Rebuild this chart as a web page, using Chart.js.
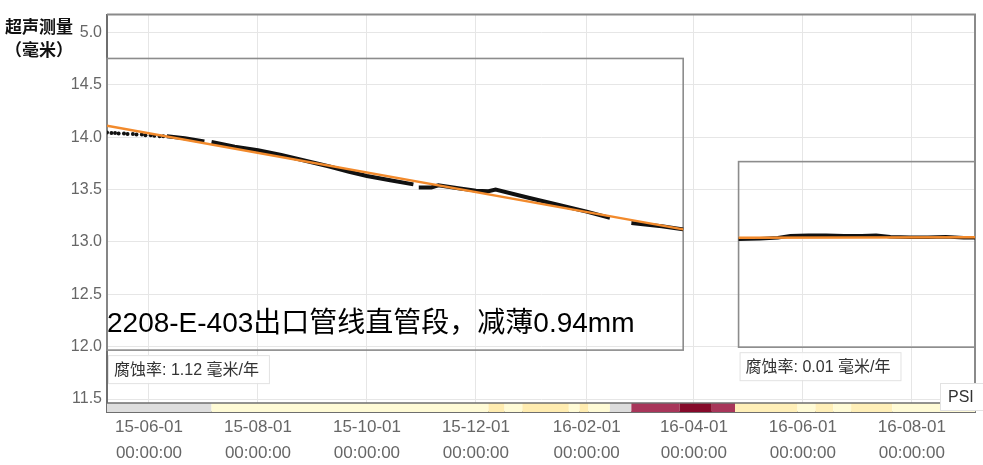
<!DOCTYPE html>
<html>
<head>
<meta charset="utf-8">
<title>超声测量</title>
<script src="https://cdn.jsdelivr.net/npm/chart.js@4.4.1/dist/chart.umd.min.js"></script>
<style>
  html, body { margin: 0; padding: 0; background: #fff; }
  #chart { display: block; }
</style>
</head>
<body>
<canvas id="chart" width="983" height="465"></canvas>
<script>
// ---- data ----
const xRange = ['2015-05-08T12:00', '2016-09-05T08:00'];
const xTickDates = ['2015-06-01', '2015-08-01', '2015-10-01', '2015-12-01', '2016-02-01', '2016-04-01', '2016-06-01', '2016-08-01'];
const yTickValues = [11.5, 12.0, 12.5, 13.0, 13.5, 14.0, 14.5, 15.0];
const yRange = [11.376, 15.171];

// sparse readings at the start (drawn as dots)
const dotDates = ['2015-05-08T12:00', '2015-05-11', '2015-05-13', '2015-05-15', '2015-05-18', '2015-05-20', '2015-05-23', '2015-05-25', '2015-05-28', '2015-05-30', '2015-06-02', '2015-06-04', '2015-06-07', '2015-06-09'];
const dotValues = [14.045, 14.04, 14.04, 14.035, 14.035, 14.03, 14.03, 14.025, 14.025, 14.02, 14.02, 14.015, 14.01, 14.01];

// first period, null = gap in readings
const seg1Dates = ['2015-06-11', '2015-06-21', '2015-07-02', '2015-07-04', '2015-07-06', '2015-07-19', '2015-08-01', '2015-08-14', '2015-08-24', '2015-09-10', '2015-09-21', '2015-10-01', '2015-10-14', '2015-10-27', '2015-10-29', '2015-10-30', '2015-11-06', '2015-11-10', '2015-11-22', '2015-12-01', '2015-12-08', '2015-12-12', '2015-12-31', '2016-01-17', '2016-02-01', '2016-02-14', '2016-02-20', '2016-02-26', '2016-03-14', '2016-03-26'];
const seg1Values = [14.01, 13.99, 13.96, null, 13.955, 13.91, 13.875, 13.83, 13.79, 13.72, 13.67, 13.63, 13.59, 13.55, null, 13.52, 13.52, 13.54, 13.51, 13.49, 13.485, 13.50, 13.42, 13.35, 13.29, 13.23, null, 13.18, 13.15, 13.12];

// second period
const seg2Dates = ['2016-04-26', '2016-05-08', '2016-05-18', '2016-05-25', '2016-06-04', '2016-06-14', '2016-06-24', '2016-07-04', '2016-07-12', '2016-07-20', '2016-07-31', '2016-08-10', '2016-08-20', '2016-08-30', '2016-09-05T08:00'];
const seg2Values = [13.025, 13.03, 13.04, 13.06, 13.065, 13.065, 13.06, 13.06, 13.065, 13.05, 13.045, 13.045, 13.05, 13.04, 13.04];

// fitted trend lines
const trend1Dates = ['2015-05-08T12:00', '2016-03-26'];
const trend1Values = [14.11, 13.12];
const trend2Dates = ['2016-04-26', '2016-09-05T08:00'];
const trend2Values = [13.04, 13.045];

// annotation boxes around the two periods
const boxFrom = ['2015-05-08T12:00', '2016-04-26'];
const boxTo = ['2016-03-26', '2016-09-05T08:00'];
const boxLow = [11.967, 11.995];
const boxHigh = [14.752, 13.767];
const rateLabels = ['腐蚀率: 1.12 毫米/年', '腐蚀率: 0.01 毫米/年'];
const noteText = '2208-E-403出口管线直管段，减薄0.94mm';

// PSI status strip: start date of each band, band colour
const stripStarts = ['2015-05-08T12:00', '2015-07-06', '2015-12-08', '2015-12-17', '2015-12-27', '2016-01-22', '2016-01-28', '2016-02-02', '2016-02-14', '2016-02-26', '2016-03-24', '2016-04-11', '2016-04-24', '2016-05-29', '2016-06-08', '2016-06-18', '2016-06-28', '2016-07-21'];
const stripColors = ['#dedede', '#fffbd6', '#ffecb0', '#fffbd6', '#ffecb0', '#fffbd6', '#ffecb0', '#fffbd6', '#dcdcdc', '#a8365a', '#850a2a', '#a8365a', '#ffefb8', '#fffbd6', '#ffefb8', '#fffbd6', '#ffefb8', '#fffbd6'];

// ---- helpers ----
const FONT = 'Arial, "Liberation Sans", "Noto Sans CJK SC", sans-serif';
const CJK = '"Noto Sans CJK SC", Arial, sans-serif';

function ts(s) {
  return Date.parse(s.length === 10 ? s + 'T00:00:00Z' : s + ':00Z');
}
function pad(n) { return String(n).padStart(2, '0'); }
function fmtDate(v) {
  const d = new Date(v);
  return [
    pad(d.getUTCFullYear() % 100) + '-' + pad(d.getUTCMonth() + 1) + '-' + pad(d.getUTCDate()),
    pad(d.getUTCHours()) + ':' + pad(d.getUTCMinutes()) + ':' + pad(d.getUTCSeconds())
  ];
}
function toPoints(dates, values) {
  return dates.map((d, i) => ({ x: ts(d), y: values[i] }));
}

// boxes, strip, labels and the corner title
const overlay = {
  id: 'overlay',
  beforeDatasetsDraw(chart) {
    const { ctx, chartArea: a, scales: { x, y } } = chart;
    ctx.save();
    // frame top / right
    ctx.strokeStyle = '#8a8a8a';
    ctx.lineWidth = 2;
    ctx.beginPath();
    ctx.moveTo(a.left, a.top);
    ctx.lineTo(a.right, a.top);
    ctx.lineTo(a.right, a.bottom);
    ctx.stroke();

    // period boxes
    ctx.strokeStyle = '#8c8c8c';
    ctx.lineWidth = 1.6;
    for (let i = 0; i < boxFrom.length; i++) {
      const x0 = x.getPixelForValue(ts(boxFrom[i]));
      const x1 = x.getPixelForValue(ts(boxTo[i]));
      const y0 = y.getPixelForValue(boxHigh[i]);
      const y1 = y.getPixelForValue(boxLow[i]);
      ctx.strokeRect(x0, y0, x1 - x0, y1 - y0);
    }

    // status strip
    const sTop = a.bottom - 9;
    for (let i = 0; i < stripStarts.length; i++) {
      const x0 = x.getPixelForValue(ts(stripStarts[i]));
      const x1 = i + 1 < stripStarts.length ? x.getPixelForValue(ts(stripStarts[i + 1])) : a.right;
      ctx.fillStyle = stripColors[i];
      ctx.fillRect(x0, sTop, x1 - x0, a.bottom - sTop);
    }
    ctx.strokeStyle = '#6e6e6e';
    ctx.lineWidth = 1.5;
    ctx.beginPath();
    ctx.moveTo(a.left, sTop);
    ctx.lineTo(a.right, sTop);
    ctx.stroke();
    ctx.restore();
  },
  afterDatasetsDraw(chart) {
    const { ctx, scales: { x, y } } = chart;
    ctx.save();
    // big note inside the first box
    const bx = x.getPixelForValue(ts(boxFrom[0]));
    const by = y.getPixelForValue(boxLow[0]);
    ctx.fillStyle = '#000';
    ctx.font = '28px ' + FONT;
    ctx.textBaseline = 'alphabetic';
    ctx.fillText(noteText, bx, by - 18);

    // corrosion-rate labels under each box
    ctx.font = '16px ' + FONT;
    ctx.textBaseline = 'middle';
    for (let i = 0; i < rateLabels.length; i++) {
      const lx = x.getPixelForValue(ts(boxFrom[i])) + 1;
      const ly = y.getPixelForValue(boxLow[i]) + 5;
      const w = ctx.measureText(rateLabels[i]).width + 16;
      ctx.fillStyle = 'rgba(255,255,255,0.92)';
      ctx.fillRect(lx, ly, w, 28);
      ctx.strokeStyle = '#e2e2e2';
      ctx.lineWidth = 1;
      ctx.strokeRect(lx + 0.5, ly + 0.5, w, 28);
      ctx.fillStyle = '#333';
      ctx.fillText(rateLabels[i], lx + 6, ly + 15);
    }
    ctx.restore();
  },
  afterDraw(chart) {
    const { ctx, chartArea: a } = chart;
    ctx.save();
    // PSI legend tag
    ctx.fillStyle = '#fff';
    ctx.fillRect(a.right - 35, a.bottom - 29, 50, 27);
    ctx.strokeStyle = '#e2e2e2';
    ctx.lineWidth = 1;
    ctx.strokeRect(a.right - 34.5, a.bottom - 28.5, 50, 27);
    ctx.fillStyle = '#333';
    ctx.font = '16px ' + FONT;
    ctx.textBaseline = 'middle';
    ctx.fillText('PSI', a.right - 27, a.bottom - 14);

    // axis title in the corner, covering the "1" of the top tick
    ctx.font = 'bold 17px ' + CJK;
    ctx.fillStyle = '#fff';
    ctx.fillRect(4, 16, 75, 21);
    ctx.fillStyle = '#111';
    ctx.fillText('超声测量', 5, 27);
    ctx.fillText('（毫米）', 5, 50);
    ctx.restore();
  }
};

new Chart(document.getElementById('chart').getContext('2d'), {
  type: 'line',
  data: {
    datasets: [
      {
        data: toPoints(trend1Dates, trend1Values),
        borderColor: '#f28a2c',
        borderWidth: 2.5,
        pointRadius: 0,
      },
      {
        data: toPoints(trend2Dates, trend2Values),
        borderColor: '#f28a2c',
        borderWidth: 2.5,
        pointRadius: 0,
      },
      {
        data: toPoints(seg1Dates, seg1Values),
        borderColor: '#111',
        borderWidth: 4,
        pointRadius: 0,
        spanGaps: false,
      },
      {
        data: toPoints(seg2Dates, seg2Values),
        borderColor: '#111',
        borderWidth: 3.5,
        pointRadius: 0,
      },
      {
        data: toPoints(dotDates, dotValues),
        showLine: false,
        pointRadius: 2,
        pointBorderWidth: 0,
        pointBackgroundColor: '#111',
      },
    ],
  },
  options: {
    responsive: false,
    animation: false,
    events: [],
    layout: { padding: { left: 0, right: 8, top: 13, bottom: 0 } },
    plugins: {
      legend: { display: false },
      tooltip: { enabled: false },
    },
    scales: {
      x: {
        type: 'linear',
        min: ts(xRange[0]),
        max: ts(xRange[1]),
        afterBuildTicks: (scale) => {
          scale.ticks = xTickDates.map((d) => ({ value: ts(d) }));
        },
        afterFit: (scale) => { scale.height = 53; },
        grid: { color: '#e6e6e6', lineWidth: 1, drawTicks: false },
        border: { display: true, color: '#6e6e6e', width: 2 },
        ticks: {
          autoSkip: false,
          maxRotation: 0,
          padding: 2,
          color: '#666',
          font: { size: 17, family: FONT, lineHeight: 1.53 },
          callback: (v) => fmtDate(v),
        },
      },
      y: {
        min: yRange[0],
        max: yRange[1],
        afterBuildTicks: (scale) => {
          scale.ticks = yTickValues.map((v) => ({ value: v }));
        },
        afterFit: (scale) => { scale.width = 107; },
        grid: { color: '#e6e6e6', lineWidth: 1, drawTicks: false },
        border: { display: true, color: '#6e6e6e', width: 2 },
        ticks: {
          padding: 5,
          color: '#666',
          font: { size: 16, family: FONT },
          callback: (v) => v.toFixed(1),
        },
      },
    },
  },
  plugins: [overlay],
});
</script>
</body>
</html>
